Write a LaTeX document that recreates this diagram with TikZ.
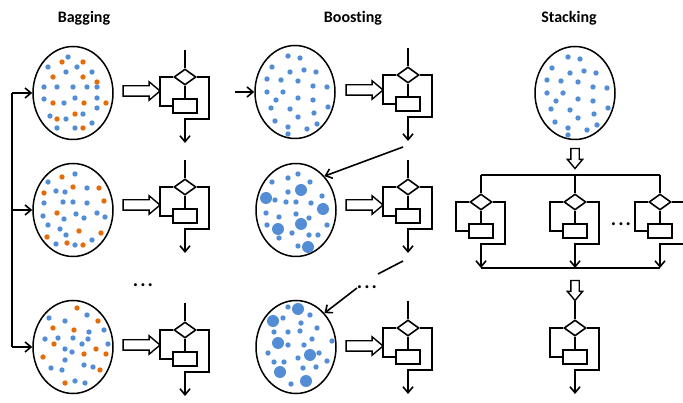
\documentclass[tikz,border=0pt]{standalone}
\usepackage{fontspec}
\setmainfont{Carlito}[Ligatures={NoCommon}]
\usetikzlibrary{shapes, shapes.geometric, shapes.arrows, arrows.meta, calc, positioning}
\definecolor{dotblue}{RGB}{83,141,213}
\definecolor{dotorange}{RGB}{228,108,10}
\tikzset{
	title/.style={font=\fontsize{16}{19}\selectfont\bfseries}
}
\tikzset{
	dataset/.style={ellipse, draw, line width=1.5pt, minimum width=80pt, minimum height=93pt, inner sep=0pt},
	decision/.style={diamond, draw, line width=1.6pt, minimum width=22pt, minimum height=16pt, aspect=1.375, inner sep=0pt},
	process/.style={rectangle, draw, line width=1.6pt, minimum width=24pt, minimum height=14pt, inner sep=0pt},
	fatarrow/.style={single arrow, draw, line width=1.4pt, inner sep=4.5pt, single arrow head extend=4pt,
		single arrow tip angle=80, minimum height=37pt},
	fatdown/.style={fatarrow, shape border rotate=270, minimum height=20pt, inner sep=3.5pt, single arrow head extend=3.5pt},
	dotstext/.style={font=\fontsize{20}{24}\selectfont\bfseries, anchor=base}
}
% flowchart symbol: diamond, box, two branches, arrow out
\tikzset{
	flowicon/.pic={
		\node[decision] (-d) at (0,0) {};
		\node[process] (-r) at (0,29) {};
		\coordinate (-in) at (0,-27);
		\coordinate (-out) at (0,66);
		\draw (-in) -- (-d.north);
		\draw (-d.south) -- (-r.north);
		\draw (-d.west) -- ++(-13,0) |- (-r.west);
		\draw[->] (-d.east) -- ++(12,0) -- ++(0,42) -| (-out);
	}
}
% dot positions relative to each ellipse centre
\def\bagOneBlue{-5/-36, -25/-26, 4/-26, -7/-21, 19/-21, -29/-6, -16/-6, 0/-6, 14/-6, 24/-6, -29/6, -9/10, 2/5, 24/5, 24/15, 10/21, -23/23, -7/26, 19/30, -16/35, 2/35}
\def\bagOneOrange{-11/-31, 10/-31, -20/-16, 10/-16, 24/-11, -20/10, 11/10, 33/10, 2/21, -16/26, 10/35}
\def\bagTwoBlue{2/-36, -25/-28, -17/-19, -8/-18, 14/-22, -29/-7, -10/-8, 0/-8, 14/-7, -30/6, -9/9, 3/4, 11/8, 24/3, 32/7, -25/15, -13/19, -7/25, 19/30, -17/34, 2/35}
\def\bagTwoOrange{-11/-33, 0/-23, 26/-22, -29/-17, 31/-9, -16/3, 6/21, 28/23, -26/27, -6/33, 10/35}
\def\bagThreeBlue{-24/-29, -8/-26, 14/-32, 16/-15, 31/-17, -28/-8, -15/-9, 0/-9, 9/-3, 15/-8, 35/-3, -8/2, -1/5, -8/13, 11/18, 20/20, -22/21, -11/23, 2/34, 12/36}
\def\bagThreeOrange{4/-39, 25/-26, -20/-19, 1/-17, -19/-3, 11/7, 23/2, 33/7, -30/10, 27/23, -8/36}
\def\plainDots{-7/-36, 5/-34, -23/-25, -5/-20, 9/-22, 21/-20, -28/-13, -14/-12, 3/-11, 18/-6, 32/-5, -28/0, -12/0, -19/8, 3/6, 18/8, -24/16, -5/17, 19/21, 33/15, -20/29, 3/25, 22/32, -7/35, 12/37, -7/42}
\def\boostTwoSmall{2/-36, -8/-32, -24/-28, 14/-28, -8/-18, 26/-14, -21/-10, -10/-8, 0/-8, 15/-7, -30/3, 0/4, -17/7, 13/8, -29/15, 31/15, -4/23, 13/25, 22/25, -17/28, 2/36}
\def\boostTwoLarge{5/-20, -30/-12, 27/-1, 5/14, -18/19, 12/37}
\def\boostThreeSmall{-8/-40, 14/-32, -13/-29, 5/-24, 21/-19, -22/-15, -8/-15, 4/-16, 16/-8, 36/-6, -8/-2, 8/-2, -28/6, 23/6, 2/11, -22/15, -12/15, 31/14, 7/21, 20/20, -5/37}
\def\boostThreeLarge{2/-38, -23/-26, -18/-4, 14/8, -16/25, 10/34}

\begin{document}
\begin{tikzpicture}[x=1pt, y=-1pt, line width=1.6pt, >={Straight Barb[length=6pt,width=10pt]}]
	\useasboundingbox (0,0) rectangle (683,403);

	% titles
	\node[title] (tbag) at (84,18) {Bagging};
	\node[title] (tboost) at (353,18) {Boosting};
	\node[title] (tstack) at (569,18) {Stacking};

	% ---------------- bagging ----------------
	\node[dataset] (ba1) at (73,93) {};
	\node[dataset] (ba2) at (73,210) {};
	\node[dataset] (ba3) at (73,347) {};
	\begin{scope}[shift={(73,93)}]
		\foreach \x/\y in \bagOneBlue {\fill[dotblue] (\x,\y) circle (2.7pt);}
		\foreach \x/\y in \bagOneOrange {\fill[dotorange] (\x,\y) circle (2.7pt);}
	\end{scope}
	\begin{scope}[shift={(73,210)}]
		\foreach \x/\y in \bagTwoBlue {\fill[dotblue] (\x,\y) circle (2.7pt);}
		\foreach \x/\y in \bagTwoOrange {\fill[dotorange] (\x,\y) circle (2.7pt);}
	\end{scope}
	\begin{scope}[shift={(73,347)}]
		\foreach \x/\y in \bagThreeBlue {\fill[dotblue] (\x,\y) circle (2.7pt);}
		\foreach \x/\y in \bagThreeOrange {\fill[dotorange] (\x,\y) circle (2.7pt);}
	\end{scope}

	\coordinate (bus) at (12,0);
	\draw (ba1.west -| bus) -- (ba3.west -| bus);
	\foreach \i in {1,2,3} {\draw[->] (ba\i.west -| bus) -- (ba\i.west);}

	\node[fatarrow] (bfa1) at (138.5,91) {};
	\node[fatarrow] (bfa2) at (138.5,205) {};
	\node[fatarrow] (bfa3) at (138.5,345) {};

	\pic (bi1) at (185,77) {flowicon};
	\pic (bi2) at (185,187) {flowicon};
	\pic (bi3) at (185,330) {flowicon};
	\node[dotstext] (bdots) at (143,287) {.\hspace{2pt}.\hspace{2pt}.};

	% ---------------- boosting ----------------
	\node[dataset] (bo1) at (295,92) {};
	\node[dataset] (bo2) at (296,210) {};
	\node[dataset] (bo3) at (296,347) {};
	\begin{scope}[shift={(295,92)}]
		\foreach \x/\y in \plainDots {\fill[dotblue] (\x,\y) circle (2.7pt);}
	\end{scope}
	\begin{scope}[shift={(296,210)}]
		\foreach \x/\y in \boostTwoSmall {\fill[dotblue] (\x,\y) circle (2.7pt);}
		\foreach \x/\y in \boostTwoLarge {\fill[dotblue] (\x,\y) circle (6pt);}
	\end{scope}
	\begin{scope}[shift={(296,347)}]
		\foreach \x/\y in \boostThreeSmall {\fill[dotblue] (\x,\y) circle (2.7pt);}
		\foreach \x/\y in \boostThreeLarge {\fill[dotblue] (\x,\y) circle (6pt);}
	\end{scope}

	\coordinate (bo-start) at (235,92);
	\draw[->] (bo-start) -- (bo1.west);

	\node[fatarrow] (ofa1) at (361.5,90) {};
	\node[fatarrow] (ofa2) at (361.5,205) {};
	\node[fatarrow] (ofa3) at (361.5,346) {};

	\pic (oi1) at (408,75) {flowicon};
	\pic (oi2) at (408,187) {flowicon};
	\pic (oi3) at (408,328) {flowicon};

	\coordinate (oi1-gap) at (403,147);
	\draw[->] (oi1-gap) -- (bo2.50);
	\coordinate (oi2-gap) at (403,261);
	\coordinate (omid1) at (378,274);
	\coordinate (omid2) at (357,288);
	\draw (oi2-gap) -- (omid1);
	\node[dotstext] (odots) at (367,289) {.\hspace{2pt}.\hspace{2pt}.};
	\draw[->] (omid2) -- (bo3.50);

	% ---------------- stacking ----------------
	\node[dataset] (st) at (575,93) {};
	\begin{scope}[shift={(575,93)}]
		\foreach \x/\y in \plainDots {\fill[dotblue] (\x,\y) circle (2.7pt);}
	\end{scope}
	\node[fatdown] (sfa1) at (575,156) {};

	\pic (si1) at (481,202) {flowicon};
	\pic (si2) at (575,202) {flowicon};
	\pic (si3) at (660,202) {flowicon};
	\draw (si1-in) -- (si3-in);
	\draw (si1-out) -- (si3-out);
	\node[dotstext] (sdots) at (621,226) {.\hspace{2pt}.\hspace{2pt}.};

	\node[fatdown] (sfa2) at (575,288) {};
	\pic (sfin) at (575,328) {flowicon};
\end{tikzpicture}
\end{document}
